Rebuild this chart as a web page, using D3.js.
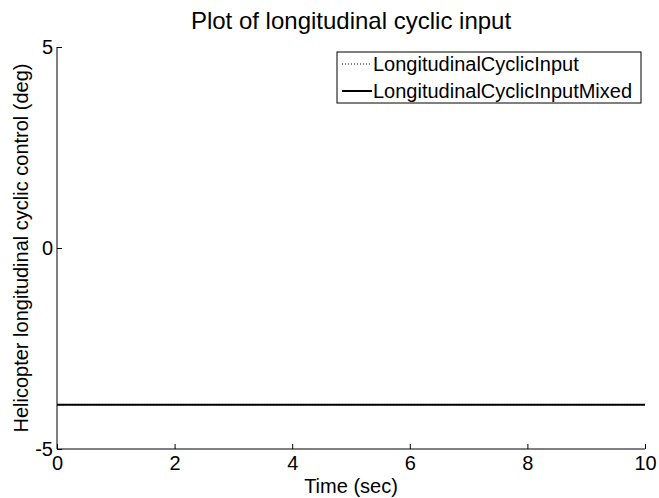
<!DOCTYPE html>
<html>
<head>
<meta charset="utf-8">
<script src="https://cdn.jsdelivr.net/npm/d3@7"></script>
<style>
	body { margin: 0; background: #fff; }
	svg { display: block; font-family: "Liberation Sans", Arial, sans-serif; }
</style>
</head>
<body>
<div id="chart"></div>
<script>
// values
const timeSec = [0, 10];
const cyclicInput = [-3.9, -3.9];
const cyclicInputMixed = [-3.9, -3.9];
const xTicks = [0, 2, 4, 6, 8, 10];
const yTicks = [-5, 0, 5];
const seriesNames = ['LongitudinalCyclicInput', 'LongitudinalCyclicInputMixed'];

const width = 659, height = 498;
const margin = { top: 47, right: 14, bottom: 49, left: 57 };
const plotW = width - margin.left - margin.right;
const plotH = height - margin.top - margin.bottom;

const svg = d3.select('#chart').append('svg')
	.attr('width', width)
	.attr('height', height);

const x = d3.scaleLinear().domain([0, 10]).range([0, plotW]);
const y = d3.scaleLinear().domain([-5, 5]).range([plotH, 0]);

const g = svg.append('g')
	.attr('transform', 'translate(' + margin.left + ',' + margin.top + ')');

// axes, matlab style: ticks point inward, plain hyphen for minus
const plain = d => String(d);
const xAxis = g.append('g')
	.attr('transform', 'translate(0,' + plotH + ')')
	.call(d3.axisBottom(x).tickValues(xTicks).tickSize(-5).tickPadding(7).tickFormat(plain));
const yAxis = g.append('g')
	.call(d3.axisLeft(y).tickValues(yTicks).tickSize(-5).tickPadding(4).tickFormat(plain));

[xAxis, yAxis].forEach(a => {
	a.select('.domain').attr('stroke', '#000').attr('stroke-width', 1);
	a.selectAll('.tick line').attr('stroke', '#000');
	a.selectAll('.tick text').attr('fill', '#000').style('font-size', '20px');
});
// matlab domain has no outer ticks, redraw clean
xAxis.select('.domain').attr('d', 'M0,0H' + plotW);
yAxis.select('.domain').attr('d', 'M0,' + plotH + 'V0');

// data lines
const line = d3.line()
	.x((d, i) => x(timeSec[i]))
	.y(d => y(d));

g.append('path')
	.datum(cyclicInput)
	.attr('fill', 'none')
	.attr('stroke', '#000')
	.attr('stroke-width', 1)
	.attr('stroke-dasharray', '1,2')
	.attr('d', line);

g.append('path')
	.datum(cyclicInputMixed)
	.attr('fill', 'none')
	.attr('stroke', '#000')
	.attr('stroke-width', 2)
	.attr('d', line);

// title and axis labels
svg.append('text')
	.attr('x', margin.left + plotW / 2)
	.attr('y', 29)
	.attr('text-anchor', 'middle')
	.style('font-size', '24px')
	.text('Plot of longitudinal cyclic input');

svg.append('text')
	.attr('x', margin.left + plotW / 2)
	.attr('y', 493)
	.attr('text-anchor', 'middle')
	.style('font-size', '20px')
	.text('Time (sec)');

svg.append('text')
	.attr('transform', 'translate(28,' + (margin.top + plotH / 2) + ') rotate(-90)')
	.attr('text-anchor', 'middle')
	.style('font-size', '20px')
	.text('Helicopter longitudinal cyclic control (deg)');

// legend
const legend = svg.append('g').attr('transform', 'translate(337,52)');
legend.append('rect')
	.attr('width', 304)
	.attr('height', 51)
	.attr('fill', '#fff')
	.attr('stroke', '#000')
	.attr('stroke-width', 1);

const styles = [{ w: 1, dash: '1,2' }, { w: 2, dash: null }];
seriesNames.forEach((name, i) => {
	const yy = 12 + i * 27;
	legend.append('line')
		.attr('x1', 5).attr('x2', 35)
		.attr('y1', yy).attr('y2', yy)
		.attr('stroke', '#000')
		.attr('stroke-width', styles[i].w)
		.attr('stroke-dasharray', styles[i].dash);
	legend.append('text')
		.attr('x', 36)
		.attr('y', yy + 7)
		.style('font-size', '20px')
		.text(name);
});
</script>
</body>
</html>
